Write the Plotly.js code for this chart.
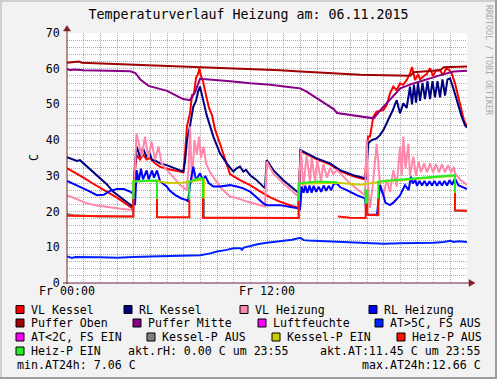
<!DOCTYPE html>
<html><head><meta charset="utf-8">
<script src="https://cdn.plot.ly/plotly-3.0.1.min.js"></script>
<style>html,body{margin:0;padding:0;background:#f2f2f2;}#chart{width:497px;height:379px;}</style>
</head><body><div id="chart"></div>
<script>
// ---- text ----
const chartTitle = 'Temperaturverlauf Heizung am: 06.11.2015';
const yAxisLabel = 'C';
const xLabelAlias = {'0': 'Fr 00:00', '6': ' ', '12': 'Fr 12:00', '18': ' ', '24': ' '};
const watermark = 'RRDTOOL / TOBI OETIKER';

// ---- series (time in hours of 06.11.2015, values in C) ----
const vlK_t = [0,0.48,0.96,1.5,1.98,2.46,3.0,3.48,3.96,4.05,4.18,4.38,4.56,4.78,4.98,5.28,5.58,6.18,6.78,6.98,7.08,7.2,7.38,7.5,7.62,7.74,7.86,7.95,8.04,8.16,8.34,8.52,8.7,8.88,9.18,9.48,9.78,10.38,10.98,11.78,12.2,12.8,13.4,13.88,14.01,14.38,14.98,15.78,16.38,17.18,17.88,17.98,18.06,18.18,18.38,18.58,18.98,19.18,19.38,19.58,19.78,19.98,20.16,20.38,20.58,20.7,20.88,21.06,21.18,21.38,21.58,21.78,21.96,22.14,22.38,22.56,22.74,22.89,23.08,23.28,23.48,23.68,23.82,24];
const vlK_v = [32.2,31.0,29.6,28.0,26.8,25.4,23.9,22.4,20.8,30,35.8,34.6,36.0,34.6,35.0,33.5,32.5,31.8,31.2,31.0,36,44,47.5,52.6,53,57.4,58.5,60.1,58,56.5,52.6,49,47,43,39,34.5,30.5,28.8,27.4,25.1,24.0,22.7,21.7,21.0,37.0,36.0,34.6,33.2,31.3,29.9,29.0,36,41,41,46.6,48,48.4,49.8,53.1,55,54,55.9,55.5,56.8,58.7,60.5,56.8,58.5,57,57.8,58.5,60.1,58,59.5,59.6,58.2,60,59.8,58.7,55.9,52.2,48,45.5,43.8];

const rlK_t = [0,0.3,0.6,0.78,1.2,1.56,1.98,2.4,2.76,3.18,3.6,3.96,4.08,4.18,4.38,4.56,4.78,4.92,5.1,5.28,5.58,5.98,6.36,6.78,6.98,7.08,7.2,7.38,7.58,7.74,7.86,7.98,8.07,8.16,8.38,8.58,8.78,9.18,9.58,9.98,10.18,10.38,10.58,10.74,10.98,11.38,11.78,11.88,11.98,12.38,12.98,13.58,13.92,14.01,14.38,14.98,15.78,16.38,17.18,17.94,18.08,18.28,18.58,18.78,18.98,19.18,19.38,19.56,19.78,19.98,20.18,20.38,20.58,20.7,20.82,20.94,21.06,21.18,21.33,21.48,21.63,21.78,21.93,22.08,22.23,22.38,22.53,22.68,22.83,22.98,23.18,23.38,23.68,23.88,24];
const rlK_v = [35.2,34.6,34.2,34.4,32.6,31.2,29.3,27.6,25.6,24.0,22.6,21.4,33,38.2,35.4,37.8,35.2,36.8,34.5,34.3,33.5,33.0,32.3,31.6,31.2,34,40,44,49.4,51,53.5,55,53,51.5,47,44,41,36.3,33.5,31.2,32.1,32.6,31.2,31.7,30.2,28.8,27.0,26.5,34.4,31.6,28.8,26.5,25.1,37.2,36.3,34.9,33.5,31.6,30.2,29.3,39.1,40,40.5,41.4,42.8,44.7,46.6,48.5,51.2,47.5,50.3,49,55,50,55.5,50.5,56,51,56,51.5,56.5,51.5,56.5,52,56.5,52,57,52.5,57,57.3,54.5,51.2,46.6,44.2,43.5];

const vlH_t = [0,0.6,1.2,1.8,2.4,3.0,3.6,3.98,4.08,4.17,4.48,4.68,4.88,5.08,5.28,5.48,5.68,5.94,6.18,6.48,6.78,7.18,7.29,7.38,7.5,7.65,7.8,7.92,8.04,8.19,8.34,8.58,8.88,9.18,9.48,9.78,10.38,10.78,11.28,11.88,11.98,12.38,12.98,13.58,13.88,14.04,14.18,14.38,14.58,14.68,14.88,15.02,15.24,15.38,15.6,15.78,15.98,16.2,16.38,16.98,17.58,17.88,17.98,18.09,18.18,18.36,18.58,18.78,18.98,19.18,19.38,19.58,19.78,19.98,20.08,20.18,20.31,20.48,20.58,20.78,20.94,21.09,21.24,21.42,21.6,21.78,21.96,22.14,22.32,22.5,22.68,22.86,23.04,23.22,23.28,23.58,23.88,24];
const vlH_v = [24.6,23.4,22.3,21.7,21.2,20.9,20.6,20.4,32,41.9,35.4,41.0,35.0,39.6,34.4,38.2,33.5,31.8,30.7,29,27.5,26,32,43.8,28,40,36,41,35,38.2,33.5,31,29,27,25.5,24.2,23.5,22.8,22.2,21.4,34,30.7,27.9,25.6,24.2,37.2,27,35.8,28.3,35.0,28.5,34.3,28.5,33.3,29.5,32.2,30.5,31.6,30.8,27.9,25.6,24.6,40,25,21,28,39,28,24.2,29,25.5,31.6,27,38.2,30,41,32,39,30,35.4,30,34,31,33.5,31,33.5,31,33.3,31,33.2,31,33,31,32.5,30.7,29,27.9,27.5];

const rlH_t = [0,0.6,1.2,1.8,2.2,2.58,3.0,3.4,3.78,3.98,4.08,4.18,4.3,4.44,4.56,4.78,4.9,5.1,5.22,5.4,5.52,5.58,5.98,6.18,6.5,6.9,7.18,7.26,7.4,7.58,7.74,7.98,8.16,8.3,8.5,8.78,9.18,9.78,10.18,10.58,10.98,11.5,11.78,11.98,12.78,13.5,13.88,13.98,14.08,14.2,14.3,14.42,14.55,14.68,14.8,14.95,15.1,15.25,15.4,15.55,15.7,15.85,16.0,16.18,16.4,16.78,17.38,17.88,17.98,18.1,18.6,18.78,18.9,18.98,19.1,19.38,19.58,19.78,19.98,20.28,20.5,20.63,20.75,20.9,21.0,21.15,21.3,21.45,21.6,21.75,21.9,22.05,22.2,22.35,22.5,22.65,22.8,22.95,23.1,23.28,23.48,24];
const rlH_v = [28.6,27.4,26.0,24.6,24.7,25.8,26.3,26.3,25.6,24.9,21.8,31.6,28.5,32,29,31.5,29,31.5,29.5,31.5,29.5,28.5,27,25.8,24.6,23.6,23.2,22.8,28,32.6,28.8,30.7,28.8,30,28,27,27,27.4,27.0,26.5,25.6,23.5,22.3,21.8,21.8,21.2,20.9,20.4,27,25.3,27.2,25.2,27.3,25.3,27.2,25.5,27.0,25.5,27.3,25.8,27.2,26,27.7,27.9,26.8,26,24.6,23.7,19.5,19.1,19.1,27.4,26,24.6,22.5,21.8,22.5,23.5,24.5,27.4,26,29.8,27.9,28.8,27.2,28.6,27.3,28.6,27.2,28.5,27.3,28.6,27.2,28.5,27.3,28.6,27.3,28.8,27.5,29.3,27.4,26.3];

const pO_t = [0,0.5,0.7,0.9,2,3,5,6.5,7.7,9.2,11,12.8,14,15.2,16.4,17.6,19,20.6,20.8,21.5,22.4,22.6,23.3,24];
const pO_v = [61.7,61.8,62.0,61.7,61.5,61.3,61.0,60.8,60.4,60.3,59.8,59.6,59.2,58.9,58.6,58.3,58.2,58.0,59.0,59.3,59.6,60.4,60.6,60.6];

const pM_t = [0,0.2,0.4,1,2.5,3.8,4.1,4.4,4.9,5.5,6,6.5,6.96,7.38,7.7,7.98,8.6,9.8,11,12.2,13.4,14,14.4,14.8,15.4,16,16.2,17,18,18.4,18.8,19.2,19.6,20,20.6,21.4,22.4,23.2,24];
const pM_v = [59.9,59.6,59.8,59.6,59.4,59.3,58.8,57.0,55.2,54.5,53.8,52.6,51.5,51.2,53.5,57.2,57.0,56.5,55.9,55.5,54.8,54.5,53.5,52.3,50.4,48.7,47.6,47.1,46.5,46.1,48.4,50.5,52.6,54.5,55.6,56.8,58.2,59.2,59.4];

const at_t = [0,0.3,0.5,1,2,3,3.5,4,5,6,7,8,8.6,9,9.5,10,10.4,10.5,10.6,11,11.5,12,12.5,13,13.5,14,14.2,14.5,15,16,17,18,19,20,21,22,22.6,23,23.2,23.5,24];
const at_v = [7.4,7.0,7.3,7.2,7.2,7.06,7.2,7.3,7.4,7.5,7.8,7.8,8.3,8.8,9.2,9.7,9.7,9.3,9.9,10.4,10.9,11.3,11.6,11.9,12.1,12.66,12.0,11.9,11.8,11.4,11.2,11.1,11.0,11.1,11.1,11.3,11.5,11.8,11.5,11.7,11.45];

// pump states: value drawn, on = 1 (EIN) / 0 (AUS)
const kesselP_t  = [0,0.4,2,3.98,3.98,5.4,6.0,6.9,7.3,8.22,8.22,13.9,13.9,16.2,17.0,17.6,18.2,18.7,20.5,22.5,23.28,23.28,24];
const kesselP_v  = [19.3,19.0,18.6,18.6,28.4,28.6,28.0,28.1,28.4,29.0,18.3,18.2,27.8,28.1,27.8,27.5,27.9,28.3,29.0,29.6,30.0,20.2,20.1];
const kesselP_on = [0,0,0,0,1,1,1,1,1,1,0,0,1,1,1,1,1,1,1,1,1,0,0];

const heizP_t  = [0,2,3.98,3.98,4.6,5.4,5.4,6.5,7.34,7.34,7.8,8.16,8.16,10,12,13.9,13.9,15,16.2,16.24,16.26,17,17.92,17.92,18.02,18.02,18.68,18.68,19.5,20.5,21.5,22.5,23.28,23.28,24];
const heizP_v  = [18.8,18.6,18.6,28.4,28.6,28.7,18.5,18.4,18.4,28.4,29.2,29.3,18.3,18.3,18.2,18.2,27.9,28.4,28.2,null,18.6,18.3,18.2,26.0,26.0,19.1,19.0,28.4,28.8,29.2,29.5,29.8,30.2,20.4,20.2];
const heizP_on = [0,0,0,1,1,1,0,0,0,1,1,1,0,0,0,0,1,1,1,1,0,0,0,1,1,0,0,1,1,1,1,1,1,0,0];

// ---- legend ----
const legendNames  = ['VL Kessel','RL Kessel','VL Heizung','RL Heizung','Puffer Oben','Puffer Mitte','Luftfeuchte','AT&gt;5C, FS AUS','AT&lt;2C, FS EIN','Kessel-P AUS','Kessel-P EIN','Heiz-P AUS','Heiz-P EIN'];
const legendColors = ['#ff0000','#000080','#ff88aa','#0000ff','#a00000','#880088','#ff00ff','#0022ff','#ff00ff','#808080','#cccc00','#ff1100','#22ee22'];
const infoTexts = ['akt.rH: 0.00 C um 23:55','akt.AT:11.45 C um 23:55','min.AT24h: 7.06 C','max.AT24h:12.66 C'];

// ---- geometry helpers (pixel -> paper) ----
const PL = 67, PR = 467, PT = 33, PB = 283;
const px = v => (v - PL) / (PR - PL);
const py = v => (PB - v) / (PB - PT);
const FONT = 'DejaVu Sans Mono, monospace';

function line(t, v, color, w) {
  return {x: t, y: v, type: 'scatter', mode: 'lines', line: {color: color, width: w || 2}, connectgaps: false, hoverinfo: 'skip', showlegend: false};
}
// split a state series into an EIN and an AUS line; a switch splits its vertical edge in the middle
function stepTraces(t, v, on, cOn, cOff) {
  const A = {1: {x: [], y: []}, 0: {x: [], y: []}};
  for (let i = 0; i < t.length; i++) {
    const s = on[i];
    if (i > 0 && on[i - 1] !== s) {
      const p = on[i - 1];
      if (t[i] === t[i - 1] && v[i] != null && v[i - 1] != null) {
        const m = (v[i] + v[i - 1]) / 2;
        A[p].x.push(t[i]); A[p].y.push(m);
        A[p].x.push(t[i]); A[p].y.push(null);
        A[s].x.push(t[i]); A[s].y.push(m);
      } else {
        A[p].x.push(t[i]); A[p].y.push(null);
      }
    }
    A[s].x.push(t[i]); A[s].y.push(v[i]);
  }
  return [line(A[0].x, A[0].y, cOff), line(A[1].x, A[1].y, cOn)];
}

const traces = [
  line(vlK_t, vlK_v, legendColors[0]),
  line(rlK_t, rlK_v, legendColors[1]),
  line(vlH_t, vlH_v, legendColors[2]),
  line(rlH_t, rlH_v, legendColors[3]),
  line(pO_t, pO_v, legendColors[4]),
  line(pM_t, pM_v, legendColors[5]),
  line(at_t, at_v, legendColors[7]),
  ...stepTraces(kesselP_t, kesselP_v, kesselP_on, legendColors[10], legendColors[9]),
  ...stepTraces(heizP_t, heizP_v, heizP_on, legendColors[12], legendColors[11])
];

// legend layout positions (px): square left x, row center y
const legendSq = [[16,309.5],[124,309.5],[240,309.5],[369,309.5],[16,323],[133,323],[258,323],[375,323],[16,337],[147,337],[272,337],[397,337],[16,351]];
const shapes = [];
const annotations = [];
const AXC = '#802020';
const GRIDMAJ = 'rgba(222,79,79,0.6)';
const GRIDMIN = 'rgba(143,143,143,0.75)';
const txt = (x, y, text, xanchor, extra) => Object.assign({xref: 'paper', yref: 'paper', x: px(x), y: py(y), xanchor: xanchor, yanchor: 'middle', text: text, showarrow: false, borderpad: 0, borderwidth: 0, font: {family: FONT, size: 11.6, color: '#000'}}, extra || {});

legendNames.forEach((name, i) => {
  const [sx, sy] = legendSq[i];
  shapes.push({type: 'rect', xref: 'paper', yref: 'paper', x0: px(sx), x1: px(sx + 8), y0: py(sy + 4), y1: py(sy - 4), fillcolor: legendColors[i], line: {color: '#000', width: 1}, layer: 'above'});
  annotations.push(txt(sx + 15, sy, name, 'left'));
});
annotations.push(txt(128, 351, infoTexts[0], 'left'));
annotations.push(txt(481, 351, infoTexts[1], 'right'));
annotations.push(txt(17, 364.5, infoTexts[2], 'left'));
annotations.push(txt(481, 364.5, infoTexts[3], 'right'));
annotations.push(txt(34, 158, yAxisLabel, 'center', {textangle: -90}));
annotations.push(txt(489, 60, watermark, 'center', {textangle: 90, font: {family: FONT, size: 8.3, color: '#a8a8a8'}}));

// axes lines and arrows
shapes.push({type: 'line', xref: 'paper', yref: 'paper', x0: px(67), x1: px(67), y0: py(284), y1: py(28), line: {color: AXC, width: 1}, layer: 'above'});
shapes.push({type: 'line', xref: 'paper', yref: 'paper', x0: px(63), x1: px(471), y0: py(283), y1: py(283), line: {color: '#6e2050', width: 1}, layer: 'above'});
shapes.push({type: 'path', xref: 'paper', yref: 'paper', path: `M ${px(63.5)} ${py(31)} L ${px(70.5)} ${py(31)} L ${px(67)} ${py(25.5)} Z`, fillcolor: AXC, line: {color: AXC, width: 0.5}, layer: 'above'});
shapes.push({type: 'path', xref: 'paper', yref: 'paper', path: `M ${px(469)} ${py(279.5)} L ${px(469)} ${py(286.5)} L ${px(475)} ${py(283)} Z`, fillcolor: AXC, line: {color: AXC, width: 0.5}, layer: 'above'});
// frame shading
shapes.push({type: 'rect', xref: 'paper', yref: 'paper', x0: px(0), x1: px(497), y0: py(0), y1: py(2), fillcolor: '#cfcfcf', line: {width: 0}, layer: 'above'});
shapes.push({type: 'rect', xref: 'paper', yref: 'paper', x0: px(0), x1: px(2), y0: py(0), y1: py(379), fillcolor: '#cfcfcf', line: {width: 0}, layer: 'above'});
shapes.push({type: 'rect', xref: 'paper', yref: 'paper', x0: px(495), x1: px(497), y0: py(0), y1: py(379), fillcolor: '#9e9e9e', line: {width: 0}, layer: 'above'});
shapes.push({type: 'rect', xref: 'paper', yref: 'paper', x0: px(0), x1: px(497), y0: py(377), y1: py(379), fillcolor: '#9e9e9e', line: {width: 0}, layer: 'above'});

const layout = {
  width: 497, height: 379,
  margin: {l: PL, r: 497 - PR, t: PT, b: 379 - PB, pad: 0},
  paper_bgcolor: '#f2f2f2', plot_bgcolor: '#ffffff',
  showlegend: false,
  title: {text: chartTitle, x: 0.5, xref: 'container', xanchor: 'center', y: 1 - 14.5 / 379, yref: 'container', yanchor: 'middle', font: {family: FONT, size: 13.3, color: '#000'}},
  xaxis: {range: [0, 24], tickmode: 'linear', tick0: 0, dtick: 6, labelalias: xLabelAlias, showgrid: true, gridcolor: GRIDMAJ, griddash: '1px,1px', gridwidth: 1,
          minor: {tickmode: 'linear', tick0: 0, dtick: 1, showgrid: true, gridcolor: GRIDMIN, griddash: '1px,1px', gridwidth: 1},
          zeroline: false, showline: false, ticks: '', ticklabelstandoff: -1,
          tickfont: {family: FONT, size: 11.6, color: '#000'}, fixedrange: true},
  yaxis: {range: [0, 70], tickmode: 'linear', tick0: 0, dtick: 10, showgrid: true, gridcolor: GRIDMAJ, griddash: '1px,1px', gridwidth: 1,
          minor: {tickmode: 'linear', tick0: 0, dtick: 2, showgrid: true, gridcolor: GRIDMIN, griddash: '1px,1px', gridwidth: 1},
          zeroline: false, showline: false, ticks: 'outside', ticklen: 4, tickcolor: 'rgba(0,0,0,0)',
          tickfont: {family: FONT, size: 11.6, color: '#000'}, fixedrange: true},
  shapes: shapes,
  annotations: annotations
};

Plotly.newPlot('chart', traces, layout, {staticPlot: true, displayModeBar: false});
</script>
</body></html>
